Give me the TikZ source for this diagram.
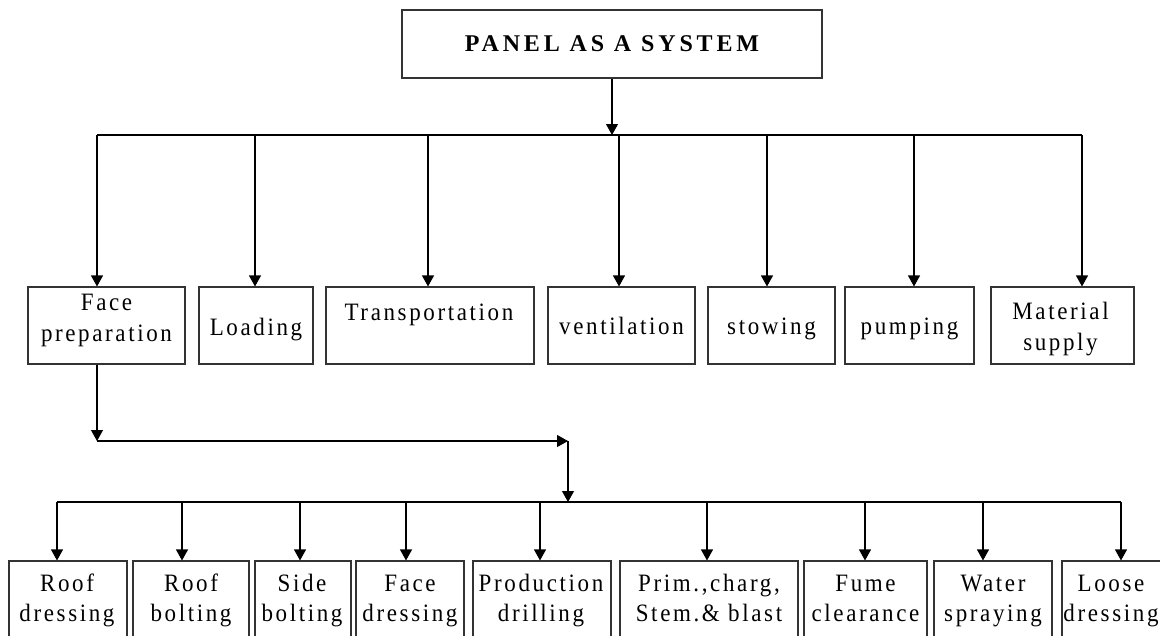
\documentclass[tikz,border=0pt]{standalone}
\usepackage{fontspec}
\setmainfont{Liberation Serif}[LetterSpace=10.5]
\newfontfamily\tallfont{Liberation Serif}[LetterSpace=10.5, FakeStretch=0.92]
\usetikzlibrary{arrows.meta}
\begin{document}
\begin{tikzpicture}[x=1pt,y=-1pt,
  box/.style={draw=black!80, line width=1.1pt, inner sep=0pt},
  mtxt/.style={inner sep=0pt, align=center, font=\tallfont\fontsize{25}{31}\selectfont},
  btxt/.style={inner sep=0pt, align=center, font=\tallfont\fontsize{25}{30}\selectfont},
  arr/.style={line width=1.1pt, -{Triangle[width=12pt,length=11pt]}},
  ln/.style={line width=1.1pt}]
\useasboundingbox (0,0) rectangle (1160,635);
% top
\node[box, minimum width=420pt, minimum height=68pt,
  font=\fontsize{24}{28}\bfseries\addfontfeature{LetterSpace=16}] (top) at (612,44) {PANEL AS A SYSTEM};
% middle row boxes
\node[box, minimum width=157pt, minimum height=77pt] (fp) at (106.5,325.5) {};
\node[box, minimum width=114pt, minimum height=77pt] (ld) at (256,325.5) {};
\node[box, minimum width=208pt, minimum height=77pt] (tr) at (430,325.5) {};
\node[box, minimum width=147pt, minimum height=77pt] (ve) at (621.5,325.5) {};
\node[box, minimum width=127pt, minimum height=77pt] (st) at (771.5,325.5) {};
\node[box, minimum width=129pt, minimum height=77pt] (pu) at (909.5,325.5) {};
\node[box, minimum width=143pt, minimum height=77pt] (ms) at (1062.5,325.5) {};
% middle row texts
\node[mtxt] (fpt) at (106.5,319.3) {\strut Face\\\strut preparation};
\node[mtxt] (ldt) at (256,328.8) {\strut Loading};
\node[mtxt] (trt) at (429,313.8) {\strut Transportation};
\node[mtxt] (vet) at (621.5,327.8) {\strut ventilation};
\node[mtxt] (stt) at (771.5,327.8) {\strut stowing};
\node[mtxt] (put) at (909.5,327.8) {\strut pumping};
\node[mtxt] (mst) at (1060.5,328.3) {\strut Material\\\strut supply};
% bottom row boxes
\node[box, minimum width=118pt, minimum height=86pt] (b1) at (68,604) {};
\node[box, minimum width=116pt, minimum height=86pt] (b2) at (191,604) {};
\node[box, minimum width=96pt, minimum height=86pt] (b3) at (303,604) {};
\node[box, minimum width=108pt, minimum height=86pt] (b4) at (410,604) {};
\node[box, minimum width=138pt, minimum height=86pt] (b5) at (542,604) {};
\node[box, minimum width=178pt, minimum height=86pt] (b6) at (709,604) {};
\node[box, minimum width=123pt, minimum height=86pt] (b7) at (865.5,604) {};
\node[box, minimum width=118pt, minimum height=86pt] (b8) at (993,604) {};
\node[box, minimum width=104pt, minimum height=86pt] (b9) at (1114,604) {};
% bottom row texts
\node[btxt] (b1t) at (67,600) {\strut Roof\\\strut dressing};
\node[btxt] (b2t) at (191,600) {\strut Roof\\\strut bolting};
\node[btxt] (b3t) at (302,600) {\strut Side\\\strut bolting};
\node[btxt] (b4t) at (410,600) {\strut Face\\\strut dressing};
\node[btxt] (b5t) at (541,600) {\strut Production\\\strut drilling};
\node[btxt] (b6t) at (709,600) {\strut Prim.,charg,\\\strut Stem.\& blast};
\node[btxt] (b7t) at (865.5,600) {\strut Fume\\\strut clearance};
\node[btxt] (b8t) at (993,600) {\strut Water\\\strut spraying};
\node[btxt] (b9t) at (1111,600) {\strut Loose\\\strut dressing};
% first level connectors
\coordinate (hub) at (612,135);
\draw[arr] (top.south) -- (hub);
\coordinate (d1) at (97,135);
\coordinate (d2) at (255,135);
\coordinate (d3) at (428,135);
\coordinate (d4) at (619,135);
\coordinate (d5) at (767,135);
\coordinate (d6) at (914,135);
\coordinate (d7) at (1082,135);
\draw[ln] (d1) -- (d7);
\draw[arr] (d1) -- (d1 |- fp.north);
\draw[arr] (d2) -- (d2 |- ld.north);
\draw[arr] (d3) -- (d3 |- tr.north);
\draw[arr] (d4) -- (d4 |- ve.north);
\draw[arr] (d5) -- (d5 |- st.north);
\draw[arr] (d6) -- (d6 |- pu.north);
\draw[arr] (d7) -- (d7 |- ms.north);
% face preparation branch
\coordinate (e0) at (97,441);
\coordinate (e1) at (568,441);
\coordinate (hub2) at (568,502);
\draw[arr] (e0 |- fp.south) -- (e0);
\draw[arr] (e0) -- (e1);
\draw[arr] (e1) -- (hub2);
\coordinate (f1) at (57,502);
\coordinate (f2) at (182,502);
\coordinate (f3) at (300,502);
\coordinate (f4) at (406,502);
\coordinate (f5) at (540,502);
\coordinate (f6) at (707,502);
\coordinate (f7) at (865,502);
\coordinate (f8) at (983,502);
\coordinate (f9) at (1121,502);
\draw[ln] (f1) -- (f9);
\draw[arr] (f1) -- (f1 |- b1.north);
\draw[arr] (f2) -- (f2 |- b2.north);
\draw[arr] (f3) -- (f3 |- b3.north);
\draw[arr] (f4) -- (f4 |- b4.north);
\draw[arr] (f5) -- (f5 |- b5.north);
\draw[arr] (f6) -- (f6 |- b6.north);
\draw[arr] (f7) -- (f7 |- b7.north);
\draw[arr] (f8) -- (f8 |- b8.north);
\draw[arr] (f9) -- (f9 |- b9.north);
\end{tikzpicture}
\end{document}
